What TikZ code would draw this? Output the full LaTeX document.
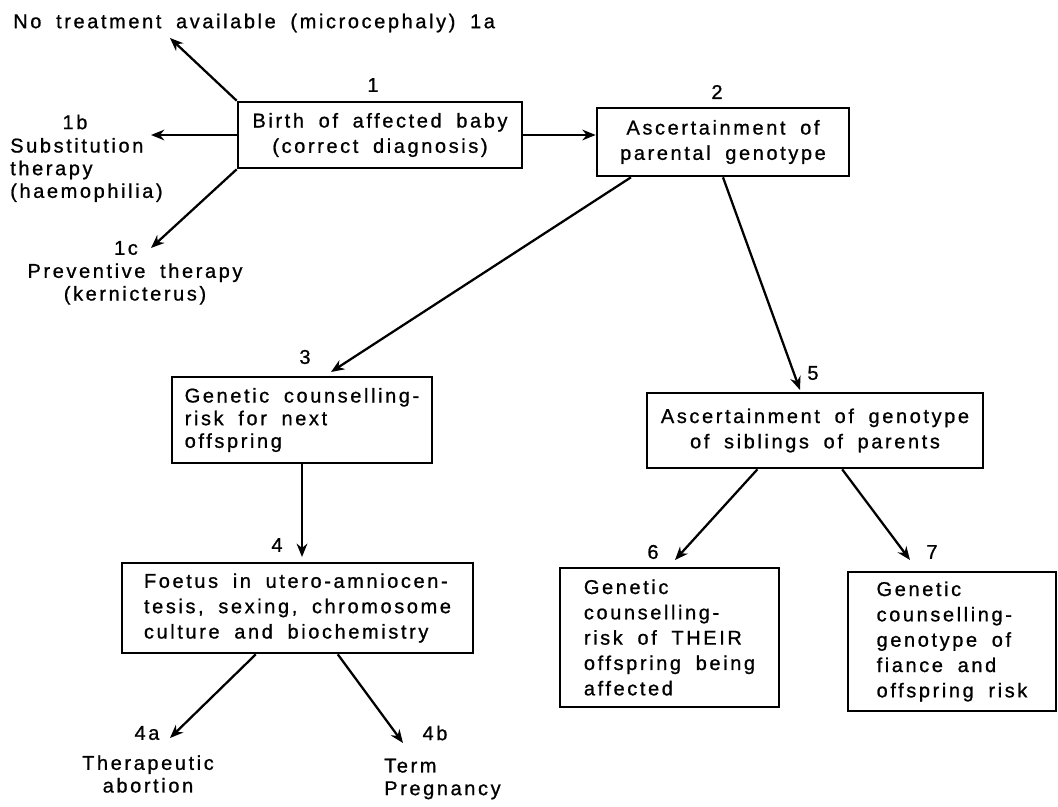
\documentclass[tikz,border=0pt]{standalone}
\usepackage{fontspec}
\setmainfont{Liberation Sans}[LetterSpace=13,WordSpace=1.8,FakeBold=0.9]
\usetikzlibrary{arrows.meta}
\tikzset{panel/.style={
    % The shape:
    rectangle,
    % The border:
    draw=black, line width=2pt,
    % Font
    font=\fontsize{15}{19}\selectfont,
    },
    tag/.style={
    font=\fontsize{15}{19}\selectfont,
    inner sep=1pt,
    },
    note/.style={
    font=\fontsize{15}{17}\selectfont,
    inner sep=0pt,
    },
    link/.style={
    -{Stealth[length=10pt,width=8pt]},
    line width=1.7pt,
    },
}

\begin{document}
\begin{tikzpicture}[x=0.75pt,y=-0.75pt]
    \useasboundingbox (0,0) rectangle (1058,807);

    % boxes
    \node (b1) [panel,minimum width=213pt,minimum height=49.5pt,align=center] at (380,135)
        {Birth of affected baby\\(correct diagnosis)};
    \node (b2) [panel,minimum width=189pt,minimum height=51pt,align=center] at (723,142)
        {Ascertainment of\\parental genotype};
    \node (b3) [panel,minimum width=195pt,minimum height=64.5pt,align=left,
        font=\fontsize{15}{17}\selectfont] at (302,420)
        {Genetic counselling-\\risk for next\\offspring};
    \node (b4) [panel,minimum width=263.25pt,minimum height=67.5pt,align=left] at (297.5,608)
        {Foetus in utero-amniocen-\\tesis, sexing, chromosome\\culture and biochemistry};
    \node (b5) [panel,minimum width=252pt,minimum height=56.25pt,align=center] at (815,430.5)
        {Ascertainment of genotype\\of siblings of parents};
    \node (b6) [panel,minimum width=164.25pt,minimum height=104.25pt,align=left] at (669.5,637.5)
        {Genetic\\counselling-\\risk of THEIR\\offspring being\\affected};
    \node (b7) [panel,minimum width=156pt,minimum height=104.25pt,align=left] at (952,641.5)
        {Genetic\\counselling-\\genotype of\\fiance and\\offspring risk};

    % numbers
    \node (n1) [tag] at (373,85) {1};
    \node (n2) [tag] at (717,92) {2};
    \node (n3) [tag] at (305,357) {3};
    \node (n4) [tag] at (277,545) {4};
    \node (n5) [tag] at (813,373) {5};
    \node (n6) [tag] at (653,552) {6};
    \node (n7) [tag] at (932,552) {7};
    \node (n1b) [tag] at (75,122) {1b};
    \node (n1c) [tag] at (126,248) {1c};
    \node (n4a) [tag] at (147,733) {4a};
    \node (n4b) [tag] at (435,733) {4b};

    % outcomes
    \node (t1a) [note,anchor=west] at (13,23) {No treatment available (microcephaly) 1a};
    \node (t1b) [note,anchor=west,align=left] at (10,170) {Substitution\\therapy\\(haemophilia)};
    \node (t1c) [note,align=center] at (135,284) {Preventive therapy\\(kernicterus)};
    \node (t4a) [note,align=center] at (148,774) {Therapeutic\\abortion};
    \node (t4b) [note,anchor=west,align=left] at (384,779) {Term\\Pregnancy};

    % arrow tips
    \coordinate (c1a) at (170,38);
    \coordinate (c1b) at (151,135);
    \coordinate (c1c) at (151,248);
    \coordinate (c3) at (331,372);
    \coordinate (c4) at (302,557);
    \coordinate (c5) at (800,390);
    \coordinate (c6) at (675,560);
    \coordinate (c7) at (910,560);
    \coordinate (c4a) at (170,738);
    \coordinate (c4b) at (403,743);

    \draw[link] (b1.north west) -- (c1a);
    \draw[link] (b1.west) -- (c1b);
    \draw[link] (b1.south west) -- (c1c);
    \draw[link] (b1.east) -- (b1.east -| b2.west);
    \draw[link] (b2.201.8) -- (c3);
    \draw[link] (b2.south) -- (c5);
    \draw[link] (b3.south) -- (c4);
    \draw[link] (b5.214.3) -- (c6);
    \draw[link] (b5.305.8) -- (c7);
    \draw[link] (b4.228) -- (c4a);
    \draw[link] (b4.311.3) -- (c4b);
\end{tikzpicture}
\end{document}
